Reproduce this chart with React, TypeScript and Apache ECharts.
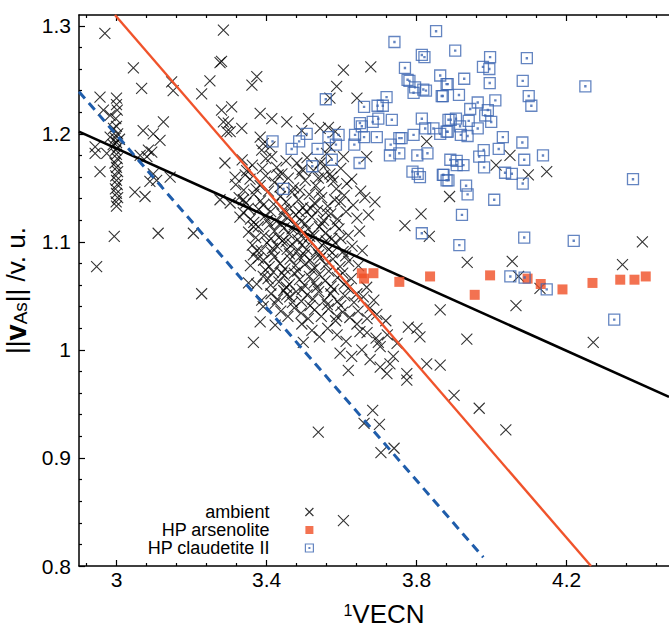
import React, { useEffect, useRef } from "react";
import * as echarts from "echarts";

const FONT = "'Liberation Sans', Arial, Helvetica, sans-serif";

// ambient (x = 1VECN, y = ||v_As||)
const ambientOutliers: number[][] = [
  [2.969, 1.293], [3.285, 1.296], [3.045, 1.261], [3.067, 1.242], [3.147, 1.248], [3.151, 1.24],
  [3.227, 1.237], [3.249, 1.249], [3.276, 1.266], [2.956, 1.234], [2.965, 1.222], [2.983, 1.217],
  [2.943, 1.188], [2.943, 1.182], [2.956, 1.165], [2.974, 1.182], [2.983, 1.197], [3.049, 1.146],
  [3.076, 1.142], [3.071, 1.203], [3.098, 1.2], [3.116, 1.194], [3.125, 1.211], [3.063, 1.18],
  [3.081, 1.179], [3.085, 1.185], [3.094, 1.183], [3.098, 1.163], [3.089, 1.156], [3.107, 1.157],
  [3.143, 1.16], [3.28, 1.222], [3.285, 1.211], [3.294, 1.202], [3.289, 1.173], [3.276, 1.139],
  [2.947, 1.077], [3.111, 1.108], [3.205, 1.108], [3.227, 1.052], [2.994, 1.105],
];
const ambientColumn: number[][] = [
  [3.0, 1.233], [3.0, 1.227], [3.002, 1.222], [2.998, 1.214], [3.0, 1.207], [3.003, 1.2],
  [2.997, 1.196], [3.0, 1.192], [3.004, 1.188], [2.998, 1.185], [3.0, 1.181], [3.002, 1.177],
  [2.996, 1.173], [3.0, 1.169], [3.003, 1.165], [2.998, 1.161], [3.0, 1.157], [3.002, 1.153],
  [2.997, 1.149], [3.0, 1.145], [3.003, 1.141], [2.999, 1.137], [3.0, 1.133], [2.991, 1.19],
  [3.008, 1.195], [2.992, 1.205],
];
const ambientUpper: number[][] = [
  [3.28, 1.267], [3.361, 1.245], [3.374, 1.253], [3.605, 1.259], [3.678, 1.262], [3.587, 1.244],
  [3.569, 1.233], [3.641, 1.233], [3.307, 1.225], [3.298, 1.21], [3.303, 1.202], [3.334, 1.205],
  [3.383, 1.219], [3.414, 1.214], [3.454, 1.211], [3.512, 1.214], [3.494, 1.203], [3.543, 1.205],
  [3.565, 1.206], [3.583, 1.202], [3.569, 1.188], [3.56, 1.182], [3.605, 1.179], [3.667, 1.179],
  [3.827, 1.193], [3.383, 1.197], [3.391, 1.191], [3.387, 1.185], [3.409, 1.188], [3.414, 1.179],
  [3.316, 1.16], [3.343, 1.162], [3.427, 1.169], [3.441, 1.163], [3.481, 1.173], [3.489, 1.163],
  [3.525, 1.166], [3.543, 1.173], [3.569, 1.163], [3.614, 1.154], [3.574, 1.16], [3.689, 1.137],
  [4.049, 1.18], [4.012, 1.171], [4.098, 1.162], [4.147, 1.165], [3.888, 1.142],
];
const ambientRight: number[][] = [
  [4.402, 1.1], [3.935, 1.081], [4.055, 1.082], [4.349, 1.079], [4.072, 1.068], [4.129, 1.057],
  [4.065, 1.041], [3.863, 1.037], [3.934, 1.01], [4.271, 1.007], [3.863, 0.986], [3.9, 0.958],
  [3.967, 0.946], [4.038, 0.926], [3.683, 0.944], [3.66, 0.932], [3.701, 0.931], [3.705, 0.905],
  [3.74, 0.909], [3.538, 0.924], [3.605, 0.842], [3.812, 1.126], [3.769, 1.115], [3.834, 1.105],
];
const ambientLower: number[][] = [
  [3.365, 1.007], [3.494, 1.024], [3.498, 1.007], [3.454, 1.051], [3.423, 1.023], [3.383, 1.026],
  [3.587, 1.031], [3.641, 1.024], [3.649, 1.017], [3.698, 1.007], [3.703, 1.003], [3.778, 1.021],
  [3.809, 1.012], [3.801, 1.02], [3.596, 0.997], [3.627, 0.994], [3.618, 0.981], [3.654, 1.0],
  [3.676, 0.991], [3.703, 0.984], [3.721, 0.978], [3.729, 0.987], [3.738, 0.994], [3.774, 0.978],
  [3.774, 0.972], [3.827, 0.987], [3.329, 1.123], [3.365, 1.114], [3.374, 1.092], [3.365, 1.088],
  [3.391, 1.068], [3.374, 1.061], [3.391, 1.04], [3.387, 1.046], [3.303, 1.136], [3.338, 1.139],
];
const ambientCore: number[][] = [
  [3.335, 1.176], [3.362, 1.171], [3.398, 1.177], [3.452, 1.175], [3.508, 1.178], [3.556, 1.171], [3.598, 1.168],
  [3.318, 1.153], [3.356, 1.158], [3.372, 1.149], [3.398, 1.161], [3.421, 1.155], [3.458, 1.159], [3.472, 1.15],
  [3.503, 1.157], [3.531, 1.152], [3.551, 1.161], [3.586, 1.149], [3.627, 1.158], [3.651, 1.147],
  [3.327, 1.141], [3.345, 1.136], [3.366, 1.144], [3.384, 1.138], [3.405, 1.147], [3.419, 1.135], [3.437, 1.142],
  [3.452, 1.137], [3.468, 1.146], [3.485, 1.139], [3.497, 1.132], [3.514, 1.144], [3.528, 1.136], [3.547, 1.141],
  [3.563, 1.133], [3.582, 1.139], [3.607, 1.143], [3.631, 1.134], [3.662, 1.141],
  [3.338, 1.127], [3.357, 1.121], [3.379, 1.13], [3.396, 1.124], [3.411, 1.128], [3.426, 1.119], [3.441, 1.126],
  [3.456, 1.122], [3.462, 1.131], [3.478, 1.125], [3.493, 1.119], [3.506, 1.128], [3.521, 1.123], [3.536, 1.129],
  [3.552, 1.12], [3.571, 1.126], [3.589, 1.121], [3.612, 1.128], [3.641, 1.122], [3.672, 1.125],
  [3.352, 1.109], [3.378, 1.114], [3.393, 1.106], [3.408, 1.116], [3.421, 1.11], [3.433, 1.104], [3.447, 1.113],
  [3.461, 1.107], [3.474, 1.116], [3.486, 1.109], [3.499, 1.103], [3.511, 1.112], [3.526, 1.106], [3.541, 1.114],
  [3.557, 1.108], [3.574, 1.103], [3.593, 1.112], [3.618, 1.106], [3.648, 1.11],
  [3.362, 1.097], [3.386, 1.092], [3.401, 1.099], [3.414, 1.09], [3.428, 1.096], [3.442, 1.101], [3.455, 1.093],
  [3.468, 1.098], [3.481, 1.091], [3.494, 1.097], [3.507, 1.093], [3.519, 1.1], [3.533, 1.091], [3.548, 1.097],
  [3.566, 1.093], [3.583, 1.099], [3.604, 1.091], [3.628, 1.096], [3.655, 1.092],
  [3.392, 1.083], [3.407, 1.077], [3.421, 1.086], [3.436, 1.08], [3.449, 1.075], [3.463, 1.084], [3.477, 1.078],
  [3.489, 1.086], [3.502, 1.079], [3.516, 1.083], [3.529, 1.076], [3.543, 1.085], [3.558, 1.079], [3.577, 1.084],
  [3.596, 1.077], [3.619, 1.082], [3.645, 1.078],
  [3.404, 1.066], [3.418, 1.072], [3.433, 1.063], [3.447, 1.069], [3.461, 1.061], [3.474, 1.071], [3.488, 1.065],
  [3.501, 1.06], [3.514, 1.068], [3.527, 1.062], [3.541, 1.07], [3.556, 1.064], [3.572, 1.059], [3.589, 1.067],
  [3.607, 1.061], [3.626, 1.066], [3.667, 1.058],
  [3.412, 1.052], [3.429, 1.047], [3.446, 1.055], [3.462, 1.049], [3.479, 1.054], [3.493, 1.045], [3.508, 1.051],
  [3.524, 1.047], [3.539, 1.054], [3.555, 1.046], [3.571, 1.052], [3.589, 1.045], [3.609, 1.05], [3.633, 1.044],
  [3.658, 1.049], [3.686, 1.046],
  [3.438, 1.036], [3.457, 1.031], [3.474, 1.039], [3.492, 1.034], [3.511, 1.029], [3.528, 1.037], [3.546, 1.031],
  [3.565, 1.038], [3.584, 1.027], [3.603, 1.035], [3.622, 1.03], [3.644, 1.036], [3.668, 1.029], [3.694, 1.033],
  [3.718, 1.027],
  [3.521, 1.018], [3.541, 1.012], [3.563, 1.02], [3.588, 1.014], [3.612, 1.008], [3.668, 1.016], [3.692, 1.011],
  [3.722, 1.014], [3.748, 1.006],
];
const ambientCoreExtra: number[][] = [
  [3.347, 1.166], [3.389, 1.168], [3.431, 1.162], [3.495, 1.167], [3.538, 1.159], [3.578, 1.156],
  [3.339, 1.148], [3.383, 1.152], [3.436, 1.151], [3.489, 1.148], [3.541, 1.146], [3.597, 1.137],
  [3.351, 1.131], [3.391, 1.134], [3.447, 1.13], [3.487, 1.128], [3.518, 1.131], [3.558, 1.127],
  [3.366, 1.118], [3.402, 1.12], [3.436, 1.117], [3.468, 1.112], [3.503, 1.117], [3.548, 1.117],
  [3.583, 1.116], [3.371, 1.104], [3.412, 1.103], [3.452, 1.1], [3.483, 1.102], [3.515, 1.105],
  [3.559, 1.101], [3.598, 1.103], [3.378, 1.085], [3.416, 1.094], [3.461, 1.089], [3.501, 1.088],
  [3.539, 1.088], [3.575, 1.09], [3.611, 1.087], [3.397, 1.074], [3.441, 1.071], [3.483, 1.073],
  [3.521, 1.074], [3.566, 1.073], [3.603, 1.071], [3.411, 1.06], [3.453, 1.058], [3.495, 1.056],
  [3.534, 1.058], [3.579, 1.056], [3.618, 1.057], [3.423, 1.043], [3.469, 1.044], [3.516, 1.041],
  [3.562, 1.042], [3.598, 1.041], [3.641, 1.052], [3.676, 1.039], [3.357, 1.078], [3.352, 1.062],
];

const arsenolite: number[][] = [
  [3.654, 1.071], [3.66, 1.066], [3.685, 1.071], [3.754, 1.063], [3.836, 1.068],
  [3.955, 1.051], [3.996, 1.069], [4.096, 1.066], [4.131, 1.061], [4.189, 1.056],
  [4.269, 1.062], [4.343, 1.065], [4.381, 1.065], [4.411, 1.068],
];

const claudetite: number[][] = [
  [3.852, 1.295], [3.741, 1.285], [3.814, 1.273], [3.821, 1.271], [3.769, 1.261], [3.776, 1.25],
  [3.781, 1.249], [3.796, 1.243], [3.792, 1.238], [3.818, 1.241], [3.825, 1.24], [3.863, 1.254],
  [3.88, 1.246], [3.867, 1.235], [3.558, 1.232], [3.72, 1.234], [3.66, 1.225], [3.696, 1.226],
  [3.71, 1.226], [3.734, 1.213], [3.814, 1.214], [3.649, 1.21], [3.654, 1.207], [3.683, 1.211],
  [3.698, 1.214], [3.885, 1.213], [3.416, 1.193], [3.467, 1.186], [3.487, 1.193], [3.507, 1.2],
  [3.536, 1.186], [3.565, 1.197], [3.585, 1.19], [3.592, 1.199], [3.574, 1.176], [3.636, 1.199],
  [3.634, 1.19], [3.66, 1.197], [3.694, 1.197], [3.522, 1.17], [3.648, 1.173], [3.731, 1.19],
  [3.729, 1.18], [3.754, 1.196], [3.76, 1.196], [3.754, 1.182], [3.792, 1.199], [3.823, 1.205],
  [3.845, 1.205], [3.863, 1.2], [3.88, 1.202], [3.802, 1.18], [3.829, 1.182], [3.789, 1.165],
  [3.803, 1.163], [3.809, 1.16], [3.87, 1.162], [3.88, 1.157], [3.445, 1.149], [3.814, 1.108],
  [3.903, 1.277], [3.996, 1.271], [3.977, 1.262], [3.994, 1.26], [4.094, 1.27], [3.883, 1.246],
  [3.927, 1.251], [3.995, 1.247], [4.083, 1.249], [3.87, 1.235], [3.913, 1.236], [4.01, 1.231],
  [3.963, 1.229], [3.943, 1.223], [3.99, 1.222], [3.983, 1.217], [3.999, 1.211], [4.099, 1.235],
  [4.106, 1.226], [4.25, 1.244], [3.891, 1.213], [3.905, 1.214], [3.916, 1.207], [3.939, 1.212],
  [3.963, 1.205], [3.883, 1.202], [3.918, 1.199], [3.936, 1.198], [4.03, 1.197], [4.019, 1.186],
  [4.082, 1.192], [3.979, 1.185], [3.967, 1.179], [3.98, 1.169], [3.89, 1.176], [3.907, 1.175],
  [3.907, 1.171], [3.925, 1.171], [4.087, 1.176], [4.137, 1.18], [4.036, 1.164], [4.054, 1.163],
  [4.083, 1.154], [3.872, 1.162], [3.885, 1.157], [3.932, 1.152], [3.936, 1.144], [4.007, 1.139],
  [4.377, 1.158], [3.921, 1.125], [4.087, 1.104], [4.219, 1.101], [3.914, 1.097], [4.05, 1.068],
  [4.088, 1.067], [4.147, 1.056], [4.327, 1.028],
];

const blackFit: number[][] = [[2.9, 1.202], [4.473, 0.9565]];
const orangeFit: number[][] = [[2.996, 1.31], [4.265, 0.8]];
const blueFit: number[][] = [[2.9, 1.239], [3.978, 0.808]];

const xMajorTicks = [3, 3.4, 3.8, 4.2];
const xMinorTicks = [2.92, 3.08, 3.16, 3.24, 3.32, 3.48, 3.56, 3.64, 3.72, 3.88, 3.96, 4.04, 4.12, 4.28, 4.36, 4.44];
const yMajorTicks = [0.8, 0.9, 1, 1.1, 1.2, 1.3];
const yMinorTicks = [0.82, 0.84, 0.86, 0.88, 0.92, 0.94, 0.96, 0.98, 1.02, 1.04, 1.06, 1.08, 1.12, 1.14, 1.16, 1.18, 1.22, 1.24, 1.26, 1.28];

const seriesNames = ["ambient", "HP arsenolite", "HP claudetite II"];

const X_MIN = 2.9;
const X_MAX = 4.473;
const Y_MIN = 0.8;
const Y_MAX = 1.31;

export default function App() {
  const ref = useRef<HTMLDivElement>(null);
  useEffect(() => {
    if (!ref.current) return;
    const chart = echarts.init(ref.current, undefined, { renderer: "svg" });
    const axisLineStyle = { color: "#000", width: 1.5 };
    const tickStyle = { color: "#000", width: 1.2 };
    const xBase = { type: "value", min: X_MIN, max: X_MAX, splitLine: { show: false } };
    const yBase = { type: "value", min: Y_MIN, max: Y_MAX, splitLine: { show: false } };
    const ambient = [
      ...ambientOutliers, ...ambientColumn, ...ambientUpper, ...ambientRight, ...ambientLower,
      ...ambientCore, ...ambientCoreExtra,
    ];
    chart.setOption({
      animation: false,
      grid: { left: 79, top: 15, right: 0, bottom: 64, outerBoundsMode: "none", containLabel: false },
      xAxis: [
        {
          ...xBase,
          position: "bottom",
          axisLine: { show: true, onZero: false, lineStyle: axisLineStyle },
          axisTick: { show: true, inside: true, length: 6, customValues: xMajorTicks, lineStyle: tickStyle },
          axisLabel: { customValues: xMajorTicks, fontSize: 21, color: "#000", fontFamily: FONT, margin: 3 },
          name: "{sup|1}{m|VECN}",
          nameLocation: "middle",
          nameGap: 36,
          nameTextStyle: {
            fontFamily: FONT,
            color: "#000",
            padding: [0, 0, 0, 20],
            rich: {
              sup: { fontSize: 16, lineHeight: 24, verticalAlign: "top", fontFamily: FONT, color: "#000", padding: [0, 0, 10, 0] },
              m: { fontSize: 26, lineHeight: 24, fontFamily: FONT, color: "#000" },
            },
          },
        },
        {
          ...xBase,
          position: "bottom",
          axisLine: { show: false, onZero: false },
          axisTick: { show: true, inside: true, length: 3, customValues: xMinorTicks, lineStyle: tickStyle },
          axisLabel: { show: false },
        },
        {
          ...xBase,
          position: "top",
          axisLine: { show: true, onZero: false, lineStyle: axisLineStyle },
          axisTick: { show: true, inside: true, length: 6, customValues: xMajorTicks, lineStyle: tickStyle },
          axisLabel: { show: false },
        },
        {
          ...xBase,
          position: "top",
          axisLine: { show: false, onZero: false },
          axisTick: { show: true, inside: true, length: 3, customValues: xMinorTicks, lineStyle: tickStyle },
          axisLabel: { show: false },
        },
      ],
      yAxis: [
        {
          ...yBase,
          position: "left",
          axisLine: { show: true, onZero: false, lineStyle: axisLineStyle },
          axisTick: { show: true, inside: true, length: 6, customValues: yMajorTicks, lineStyle: tickStyle },
          axisLabel: { customValues: yMajorTicks, fontSize: 21, color: "#000", fontFamily: FONT, margin: 8 },
          name: "||{b|v}{s|As}|| /v. u.",
          nameLocation: "middle",
          nameRotate: 90,
          nameGap: 34,
          nameTextStyle: {
            fontSize: 26,
            lineHeight: 28,
            fontFamily: FONT,
            color: "#000",
            rich: {
              b: { fontSize: 29, lineHeight: 28, fontWeight: "bold", fontFamily: FONT, color: "#000" },
              s: { fontSize: 19, lineHeight: 18, verticalAlign: "bottom", fontFamily: FONT, color: "#000" },
            },
          },
        },
        {
          ...yBase,
          position: "left",
          axisLine: { show: false, onZero: false },
          axisTick: { show: true, inside: true, length: 3, customValues: yMinorTicks, lineStyle: tickStyle },
          axisLabel: { show: false },
        },
      ],
      legend: {
        data: seriesNames,
        orient: "vertical",
        align: "right",
        right: 355,
        top: 503,
        padding: 0,
        itemGap: 0,
        itemWidth: 8,
        itemHeight: 8,
        itemStyle: { borderWidth: 1.2 },
        textStyle: { fontSize: 18, lineHeight: 16.5, fontFamily: FONT, color: "#000", padding: [0, 31, 0, 0] },
        selectedMode: false,
      },
      series: [
        {
          name: seriesNames[0],
          type: "scatter",
          data: ambient,
          symbol: "path://M0,0L10,10M10,0L0,10",
          symbolSize: 11,
          itemStyle: { color: "transparent", borderColor: "#000", borderWidth: 1.1 },
          z: 2,
        },
        {
          name: "fit ambient",
          type: "line",
          data: blackFit,
          symbol: "none",
          lineStyle: { color: "#000", width: 2.6 },
          z: 3,
        },
        {
          name: "fit arsenolite",
          type: "line",
          data: orangeFit,
          symbol: "none",
          lineStyle: { color: "#f0532b", width: 2.4 },
          z: 3,
        },
        {
          name: "fit claudetite",
          type: "line",
          data: blueFit,
          symbol: "none",
          lineStyle: { color: "#1f5dab", width: 3, type: [9, 6] },
          z: 3,
        },
        {
          name: seriesNames[1],
          type: "scatter",
          data: arsenolite,
          symbol: "rect",
          symbolSize: 10,
          itemStyle: { color: "#f04f26" },
          z: 4,
        },
        {
          name: seriesNames[2],
          type: "scatter",
          data: claudetite,
          symbol: "path://M0,0L10,0L10,10L0,10Z M4.5,4.5L5.5,4.5L5.5,5.5L4.5,5.5Z",
          symbolSize: 11,
          itemStyle: { color: "transparent", borderColor: "#3d66b2", borderWidth: 1.3 },
          z: 4,
        },
      ],
    });
    return () => chart.dispose();
  }, []);
  return (
    <div
      ref={ref}
      style={{ position: "fixed", left: 0, top: 0, width: 669, height: 630, background: "#fff" }}
    />
  );
}
